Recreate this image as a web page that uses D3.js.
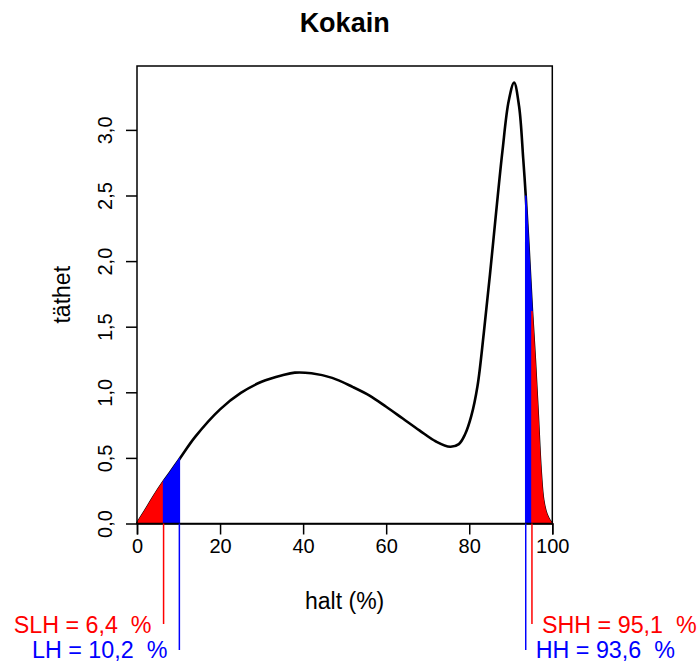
<!DOCTYPE html>
<html>
<head>
<meta charset="utf-8">
<script src="https://cdn.jsdelivr.net/npm/d3@7"></script>
<style>
body { margin: 0; background: #fff; }
text { font-family: "Liberation Sans", Arial, sans-serif; }
</style>
</head>
<body>
<script>
// density curve
var haltX = [0, 2, 4, 6.4, 8, 10.2, 14, 20, 25, 30, 35, 38, 42, 47, 52, 56, 60, 64, 68, 72,
    75.4, 77.5, 79, 80.5, 82, 83.5, 85, 86.5, 88, 89.5, 90.8, 92, 93, 93.6, 94.3, 95.1,
    95.8, 96.5, 97.2, 97.8, 98.6, 99.4, 100];
var tathet = [0, 0.10, 0.205, 0.32, 0.39, 0.49, 0.66, 0.87, 0.995, 1.08, 1.13, 1.15, 1.145,
    1.11, 1.04, 0.975, 0.89, 0.80, 0.71, 0.625, 0.585, 0.605, 0.68, 0.82, 1.05, 1.45, 1.90,
    2.38, 2.84, 3.22, 3.36, 3.18, 2.78, 2.50, 2.10, 1.62, 1.25, 0.83, 0.40, 0.18, 0.07, 0.02, 0];

var xTicks = [0, 20, 40, 60, 80, 100];
var yTicks = [0, 0.5, 1, 1.5, 2, 2.5, 3];

var cutNames = ["SLH", "LH", "HH", "SHH"];
var cutValues = [6.4, 10.2, 93.6, 95.1];
var cutLabels = ["6,4", "10,2", "93,6", "95,1"];

var red = "#ff0000", blue = "#0000ff";

var width = 700, height = 663;
var svg = d3.select("body").append("svg")
    .attr("width", width)
    .attr("height", height);

var x = d3.scaleLinear().domain([0, 100]).range([137, 552.3]);
var y = d3.scaleLinear().domain([0, 3.487]).range([523.5, 66]);

var pts = haltX.map(function (d, i) { return [d, tathet[i]]; });

var line = d3.line()
    .x(function (d) { return x(d[0]); })
    .y(function (d) { return y(d[1]); })
    .curve(d3.curveCatmullRom.alpha(0.5));

var area = d3.area()
    .x(function (d) { return x(d[0]); })
    .y0(y(0))
    .y1(function (d) { return y(d[1]); })
    .curve(d3.curveCatmullRom.alpha(0.5));

function part(a, b) {
    return pts.filter(function (d) { return d[0] >= a && d[0] <= b; });
}

// curve
svg.append("path")
    .datum(pts)
    .attr("d", line)
    .attr("fill", "none")
    .attr("stroke", "#000")
    .attr("stroke-width", 2.6);

// shaded tails
var fills = [[0, cutValues[0], red], [cutValues[0], cutValues[1], blue],
             [cutValues[2], cutValues[3], blue], [cutValues[3], 100, red]];
fills.forEach(function (f) {
    svg.append("path")
        .datum(part(f[0], f[1]))
        .attr("d", area)
        .attr("fill", f[2])
        .attr("stroke", f[2])
        .attr("stroke-width", 1.5);
});

// box
svg.append("rect")
    .attr("x", x(0)).attr("y", y.range()[1])
    .attr("width", x(100) - x(0))
    .attr("height", y(0) - y.range()[1])
    .attr("fill", "none")
    .attr("stroke", "#000")
    .attr("stroke-width", 1.5);

// x axis
var xAxis = svg.append("g")
    .attr("transform", "translate(0," + y(0) + ")")
    .call(d3.axisBottom(x).tickValues(xTicks).tickSize(11).tickPadding(4)
        .tickFormat(function (d) { return d; }));
xAxis.select(".domain").attr("stroke-width", 1.5);
xAxis.selectAll(".tick line").attr("stroke-width", 1.5);
xAxis.selectAll(".tick text")
    .attr("font-size", 20)
    .attr("font-family", "Liberation Sans, Arial, sans-serif")
    .attr("fill", "#000");

// y axis
var yAxis = svg.append("g")
    .attr("transform", "translate(" + x(0) + ",0)")
    .call(d3.axisLeft(y).tickValues(yTicks).tickSize(11)
        .tickFormat(function (d) { return d3.format(".1f")(d).replace(".", ","); }));
yAxis.select(".domain").remove();
yAxis.selectAll(".tick line").attr("stroke-width", 1.5);
yAxis.selectAll(".tick text")
    .attr("font-size", 20)
    .attr("font-family", "Liberation Sans, Arial, sans-serif")
    .attr("fill", "#000")
    .attr("text-anchor", "middle")
    .attr("x", null).attr("dy", null)
    .attr("transform", "translate(-25,0) rotate(-90)");

// titles
svg.append("text")
    .attr("x", (x(0) + x(100)) / 2).attr("y", 32)
    .attr("text-anchor", "middle")
    .attr("font-size", 27).attr("font-weight", "bold")
    .text("Kokain");

svg.append("text")
    .attr("x", (x(0) + x(100)) / 2).attr("y", 609)
    .attr("text-anchor", "middle")
    .attr("font-size", 23)
    .text("halt (%)");

svg.append("text")
    .attr("transform", "translate(70," + (y(0) + y.range()[1]) / 2 + ") rotate(-90)")
    .attr("text-anchor", "middle")
    .attr("font-size", 23)
    .text("täthet");

// limit markers
var cutColor = [red, blue, blue, red];
var lineEnd = [624, 650, 650, 624];
var textY = [633, 658, 658, 633];
cutValues.forEach(function (v, i) {
    svg.append("line")
        .attr("x1", x(v)).attr("x2", x(v))
        .attr("y1", y(0)).attr("y2", lineEnd[i])
        .attr("stroke", cutColor[i])
        .attr("stroke-width", 1.5);
    var left = v < 50;
    svg.append("text")
        .attr("x", left ? x(v) - 12 : x(v) + 10)
        .attr("y", textY[i])
        .attr("text-anchor", left ? "end" : "start")
        .attr("font-size", 23.3)
        .attr("fill", cutColor[i])
        .style("white-space", "pre")
        .text(cutNames[i] + " = " + cutLabels[i] + "  %");
});
</script>
</body>
</html>
